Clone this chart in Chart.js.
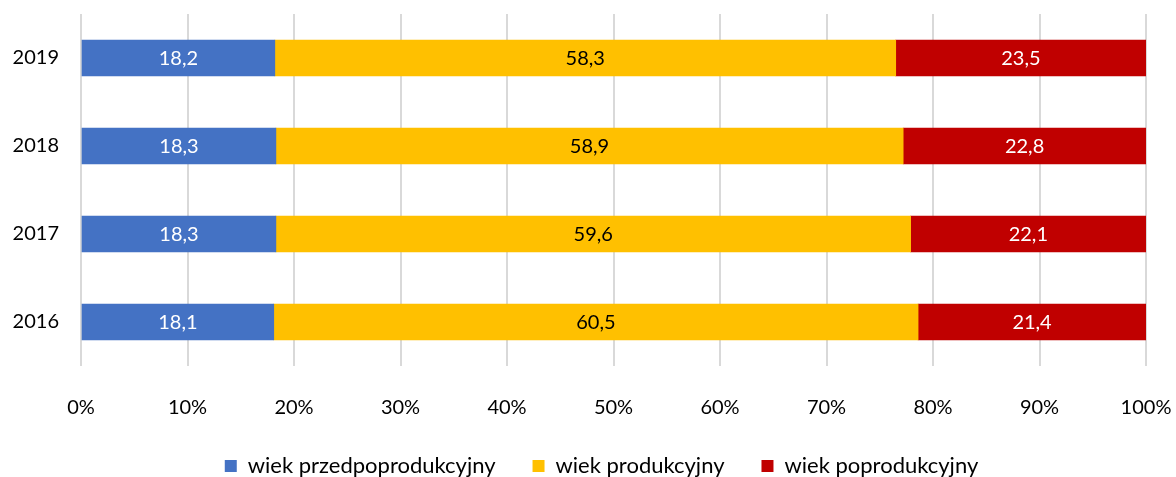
<!DOCTYPE html>
<html>
<head>
<meta charset="utf-8">
<script src="https://cdn.jsdelivr.net/npm/chart.js@4"></script>
<style>
  html, body { margin: 0; padding: 0; background: #fff; overflow: hidden; }
  #wrap { width: 1176px; height: 477px; }
</style>
</head>
<body>
<div id="wrap"><canvas id="chart"></canvas></div>
<script>
const years = ['2019', '2018', '2017', '2016'];
const preProductive = [18.2, 18.3, 18.3, 18.1];
const productive = [58.3, 58.9, 59.6, 60.5];
const postProductive = [23.5, 22.8, 22.1, 21.4];
const seriesNames = ['wiek przedpoprodukcyjny', 'wiek produkcyjny', 'wiek poprodukcyjny'];

const FONT = 'Lato, Calibri, "Noto Sans", sans-serif';

// values drawn in the middle of each bar segment
const barLabels = {
    id: 'barLabels',
    afterDatasetsDraw(chart) {
        const ctx = chart.ctx;
        ctx.save();
        ctx.font = '20px ' + FONT;
        ctx.textAlign = 'center';
        ctx.textBaseline = 'middle';
        chart.data.datasets.forEach((ds, i) => {
            const meta = chart.getDatasetMeta(i);
            ctx.fillStyle = i === 1 ? '#000000' : '#ffffff';
            meta.data.forEach((bar, j) => {
                const p = bar.getCenterPoint();
                ctx.fillText(ds.data[j].toFixed(1).replace('.', ','), p.x, p.y + 1);
            });
        });
        ctx.restore();
    }
};

// centre the legend under the plot area rather than the whole canvas
const legendShift = {
    id: 'legendShift',
    afterLayout(chart) {
        if (chart.legend) chart.legend.left += chart.chartArea.left - 24;
    }
};

new Chart(document.getElementById('chart'), {
    type: 'bar',
    data: {
        labels: years,
        datasets: [
            { label: seriesNames[0], data: preProductive, backgroundColor: '#4472C4' },
            { label: seriesNames[1], data: productive, backgroundColor: '#FFC000' },
            { label: seriesNames[2], data: postProductive, backgroundColor: '#C00000' }
        ]
    },
    options: {
        indexAxis: 'y',
        responsive: true,
        maintainAspectRatio: false,
        animation: false,
        datasets: {
            bar: { barThickness: 36 }
        },
        layout: {
            padding: { top: 14, right: 30, left: 0, bottom: -10 }
        },
        scales: {
            x: {
                stacked: true,
                min: 0,
                max: 100,
                border: { display: false },
                grid: { color: '#d9d9d9', lineWidth: 2, drawTicks: false },
                ticks: {
                    stepSize: 10,
                    padding: 30,
                    color: '#000',
                    font: { family: FONT, size: 20 },
                    callback: v => v + '%'
                },
                afterFit: scale => {
                    scale.height = 52;
                    scale.paddingLeft = 0;
                    scale.paddingRight = 0;
                }
            },
            y: {
                stacked: true,
                border: { display: false },
                grid: { display: false, drawTicks: false },
                ticks: {
                    padding: 22,
                    color: '#000',
                    font: { family: FONT, size: 20 }
                },
                afterFit: scale => {
                    scale.width = 81;
                    scale.paddingTop = 0;
                    scale.paddingBottom = 0;
                }
            }
        },
        plugins: {
            legend: {
                position: 'bottom',
                labels: {
                    boxWidth: 12,
                    boxHeight: 12,
                    padding: 37,
                    color: '#000',
                    font: { family: FONT, size: 22 }
                }
            },
            tooltip: { enabled: false }
        }
    },
    plugins: [barLabels, legendShift]
});
</script>
</body>
</html>
